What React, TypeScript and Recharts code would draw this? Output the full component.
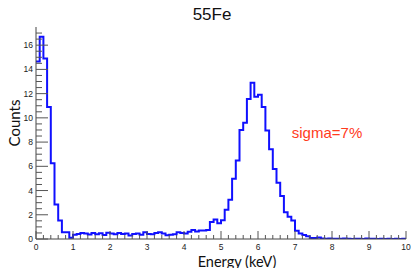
import React from "react";
import { LineChart, Line, XAxis, YAxis } from "recharts";

// Histogram of 55Fe energy spectrum: 100 bins of 0.1 keV from 0 to 10 keV
const binWidth = 0.1;
const counts = [
  14.66, 16.7, 14.9, 10.9, 6.26, 2.85, 1.53, 0.55, 0.55, 0.1,
  0.35, 0.42, 0.5, 0.45, 0.38, 0.5, 0.4, 0.48, 0.32, 0.52,
  0.45, 0.4, 0.5, 0.42, 0.45, 0.28, 0.42, 0.45, 0.35, 0.55,
  0.42, 0.4, 0.5, 0.55, 0.45, 0.3, 0.35, 0.4, 0.55, 0.5,
  0.45, 0.6, 0.75, 0.62, 0.7, 0.7, 0.75, 1.4, 1.6, 1.3,
  1.55, 2.41, 3.24, 4.97, 6.48, 9.0, 9.6, 11.56, 12.9, 11.75,
  11.9, 10.9, 8.95, 7.4, 5.77, 4.65, 3.55, 2.2, 1.83, 1.52,
  0.68, 0.46, 0.32, 0.22, 0.08, 0.08, 0.13, 0.05, 0.02, 0.05,
  0.02, 0.03, 0.02, 0.05, 0.02, 0, 0.02, 0.02, 0, 0.05,
  0.03, 0.02, 0, 0.02, 0, 0.02, 0, 0.02, 0, 0.02,
];

const xMajorTicks = [0, 1, 2, 3, 4, 5, 6, 7, 8, 9, 10];
const xMinorPerMajor = 5;
const yMajorTicks = [0, 2, 4, 6, 8, 10, 12, 14, 16];
const yMinorPerMajor = 4;
const yMax = 17.5;

const title = "55Fe";
const xTitle = "Energy (keV)";
const yTitle = "Counts";
const note = "sigma=7%";

const data = counts
  .map((c, i) => ({ e: +(i * binWidth).toFixed(2), c }))
  .concat([{ e: xMajorTicks[xMajorTicks.length - 1], c: counts[counts.length - 1] }]);

function subdivide(majors: number[], n: number, max: number) {
  const out: number[] = [];
  for (let i = 0; i < majors.length; i++) {
    const step = (majors[1] - majors[0]) / n;
    for (let k = 0; k < n; k++) {
      const v = +(majors[i] + k * step).toFixed(3);
      if (v <= max + 1e-9) out.push(v);
      if (i === majors.length - 1) break;
    }
  }
  return out;
}

const xTicks = subdivide(xMajorTicks, xMinorPerMajor, 10);
const yTicks = subdivide(yMajorTicks, yMinorPerMajor, 17.2).concat([16.5, 17]);

const tickColor = "#555";
const labelFont = "'Liberation Sans', Arial, sans-serif";

const XTick = (props: any) => {
  const { x, y, payload } = props;
  const v = payload.value as number;
  const major = xMajorTicks.some((m) => Math.abs(m - v) < 1e-6);
  return (
    <g>
      <line x1={x} y1={y} x2={x} y2={y - (major ? 8 : 4)} stroke={tickColor} strokeWidth={1} />
      {major && (
        <text x={x} y={y + 11} textAnchor="middle" fontSize={8.5} fontFamily={labelFont} fill="#222">
          {v}
        </text>
      )}
    </g>
  );
};

const YTick = (props: any) => {
  const { x, y, payload } = props;
  const v = payload.value as number;
  const major = yMajorTicks.some((m) => Math.abs(m - v) < 1e-6);
  return (
    <g>
      <line x1={x} y1={y} x2={x + (major ? 12 : 6)} y2={y} stroke={tickColor} strokeWidth={1} />
      {major && (
        <text x={x - 3} y={y + 3} textAnchor="end" fontSize={8.5} fontFamily={labelFont} fill="#222">
          {v}
        </text>
      )}
    </g>
  );
};

export default function App() {
  return (
    <div style={{ position: "absolute", left: 0, top: 0, width: 411, height: 268, background: "#fff" }}>
      <LineChart
        width={411}
        height={268}
        data={data}
        margin={{ top: 27, right: 5, bottom: 0, left: 0 }}
      >
        <XAxis
          dataKey="e"
          type="number"
          domain={[0, 10]}
          ticks={xTicks}
          interval={0}
          tickSize={0}
          tickMargin={0}
          tick={<XTick />}
          height={29}
          axisLine={{ stroke: "#444" }}
          allowDataOverflow
        />
        <XAxis
          xAxisId="top"
          orientation="top"
          type="number"
          domain={[0, 10]}
          tick={false}
          tickLine={false}
          height={0}
          axisLine={{ stroke: "#888" }}
        />
        <YAxis
          type="number"
          domain={[0, yMax]}
          ticks={yTicks}
          interval={0}
          tickSize={0}
          tickMargin={0}
          tick={<YTick />}
          width={36}
          axisLine={{ stroke: "#444" }}
          allowDataOverflow
        />
        <YAxis
          yAxisId="right"
          orientation="right"
          type="number"
          domain={[0, yMax]}
          tick={false}
          tickLine={false}
          width={0}
          axisLine={{ stroke: "#888" }}
        />
        <Line
          dataKey="c"
          type="stepAfter"
          stroke="#1010ff"
          strokeWidth={2}
          dot={false}
          activeDot={false}
          isAnimationActive={false}
        />
      </LineChart>
      <svg
        width={411}
        height={268}
        style={{ position: "absolute", left: 0, top: 0, pointerEvents: "none" }}
      >
        <text x={212} y={20} textAnchor="middle" fontSize={17} fontFamily={labelFont} fill="#111">
          {title}
        </text>
        <text x={327} y={138} textAnchor="middle" fontSize={15} fontFamily={labelFont} fill="#ff3b1d">
          {note}
        </text>
        <text x={237} y={266.5} textAnchor="middle" fontSize={14.5} fontFamily="Lato, sans-serif" fill="#111">
          {xTitle}
        </text>
        <text
          x={20}
          y={123}
          textAnchor="middle"
          fontSize={15}
          fontFamily="Lato, sans-serif"
          fill="#111"
          transform="rotate(-90 20 123)"
        >
          {yTitle}
        </text>
      </svg>
    </div>
  );
}
